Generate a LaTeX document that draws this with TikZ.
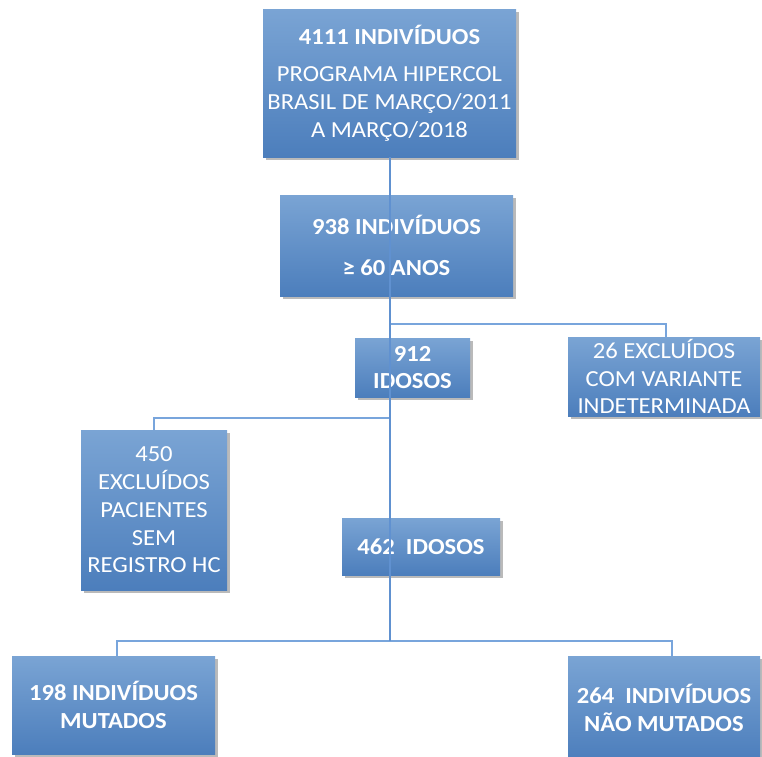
\documentclass[tikz,border=0pt]{standalone}
\usepackage{fontspec}
\setmainfont{Carlito}[FakeStretch=1.07]
\usetikzlibrary{shadows}
\definecolor{boxtop}{RGB}{122,164,212}
\definecolor{boxbot}{RGB}{76,126,188}
\definecolor{trunkc}{RGB}{96,145,208}
\definecolor{linkc}{RGB}{120,165,220}
\tikzset{
  fbox/.style={draw=none, top color=boxtop, bottom color=boxbot, text=white,
    align=center, inner sep=0pt, font=\fontsize{23}{27.8}\selectfont,
    drop shadow={shadow xshift=3pt, shadow yshift=-3pt, opacity=0.45, fill=black!60}},
  trunk/.style={draw=trunkc, line width=2pt},
  link/.style={draw=linkc, line width=2.2pt}
}
\begin{document}
\begin{tikzpicture}[x=1pt,y=-1pt]
\useasboundingbox (0,0) rectangle (762,756);
\fill[white] (0,0) rectangle (762,756);
\node[fbox, minimum width=253pt, minimum height=148pt] (b1) at (389.5,83)
  {\textbf{4111 INDIVÍDUOS}\\[10pt] PROGRAMA HIPERCOL\\ BRASIL DE MARÇO/2011\\ A MARÇO/2018};
\node[fbox, minimum width=233pt, minimum height=101pt] (b2) at (396.5,245.5)
  {\textbf{938 INDIVÍDUOS}\\[13pt] \textbf{≥ 60 ANOS}};
\node[fbox, minimum width=115pt, minimum height=59pt] (b3) at (412.5,367.5)
  {\textbf{912}\\ \textbf{IDOSOS}};
\node[fbox, minimum width=192pt, minimum height=79pt] (b4) at (664,376.5)
  {26 EXCLUÍDOS\\ COM VARIANTE\\ INDETERMINADA};
\node[fbox, minimum width=146pt, minimum height=160pt] (b5) at (154,510)
  {450\\ EXCLUÍDOS\\ PACIENTES\\ SEM\\ REGISTRO HC};
\node[fbox, minimum width=158pt, minimum height=57pt] (b6) at (421,546.5)
  {\textbf{462\ \ IDOSOS}};
\node[fbox, minimum width=203pt, minimum height=98pt] (b7) at (113.5,705)
  {\textbf{198 INDIVÍDUOS}\\ \textbf{MUTADOS}};
\node[fbox, minimum width=192pt, minimum height=104pt] (b8) at (664,708)
  {\textbf{264\ \ INDIVÍDUOS}\\ \textbf{NÃO MUTADOS}};
\coordinate (ja) at (390,324);
\coordinate (jb) at (390,418);
\coordinate (jc) at (390,641);
\coordinate (ka) at (666,324);
\coordinate (kb) at (154,418);
\coordinate (kc) at (117,641);
\coordinate (kd) at (672,641);
\draw[link] (ja) -- (ka) -- (ka |- b4.north);
\draw[link] (jb) -- (kb) -- (b5.north);
\draw[link] (kc |- b7.north) -- (kc) -- (kd) -- (kd |- b8.north);
\draw[trunk] (b1.south -| jc) -- (jc);
\end{tikzpicture}
\end{document}
